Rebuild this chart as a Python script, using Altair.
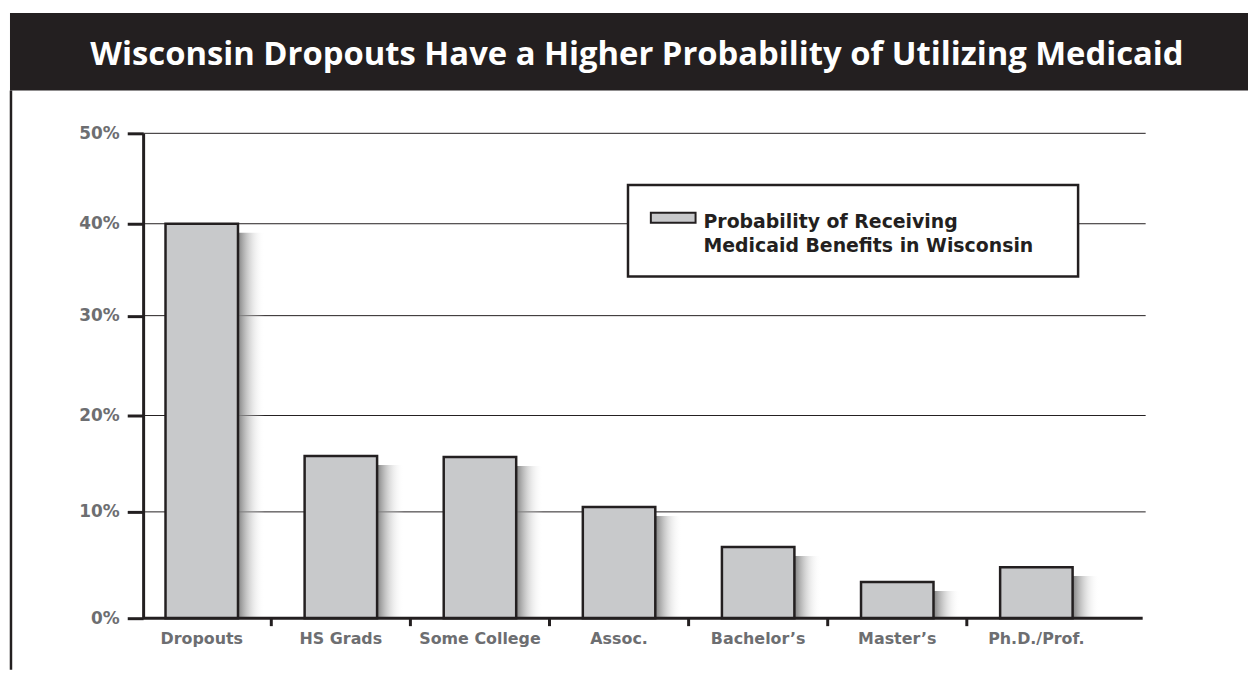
import altair as alt
import pandas as pd

# ---- data ----
categories = ["Dropouts", "HS Grads", "Some College", "Assoc.", "Bachelor’s", "Master’s", "Ph.D./Prof."]
values = [40.0, 15.8, 15.7, 10.5, 6.7, 3.4, 4.8]
y_ticks = [0, 10, 20, 30, 40, 50]
title_text = "Wisconsin Dropouts Have a Higher Probability of Utilizing Medicaid"
legend_text = "Probability of Receiving\nMedicaid Benefits in Wisconsin"

df = pd.DataFrame({"category": categories, "value": values})
sep_df = pd.DataFrame({"category": categories[:-1]})
grid_df = pd.DataFrame({"v": y_ticks[1:]})

# ---- style ----
INK = "#231f20"
GRAY_TXT = "#6d6e71"
BAR_FILL = "#c8c9cb"
W, H = 1009, 488
STEP = 140
PAD_L, PAD_T, PAD_R, PAD_B = 136, 124, 103, 50
# pixel positions of the (slightly uneven, scanned) gridlines, from the bottom up
Y_RANGE = [H, 381, 284, 183.5, 91, 0]

one = alt.Data(values=[{"t": title_text}])

x_enc = alt.X(
    "category:N",
    sort=categories,
    scale=alt.Scale(range=[-11, 969], paddingInner=0.479, paddingOuter=0.2395),
    axis=alt.Axis(
        title=None, domain=False, ticks=False, labelAngle=0,
        labelFont="DejaVu Sans", labelFontWeight="bold", labelFontSize=16,
        labelColor=GRAY_TXT, labelPadding=12,
    ),
)
y_scale = alt.Scale(domain=y_ticks, range=Y_RANGE)
y_enc = alt.Y(
    "value:Q",
    scale=y_scale,
    axis=alt.Axis(
        values=y_ticks, labelExpr="datum.value + '%'", title=None, grid=False,
        domainColor=INK, domainWidth=3, tickColor=INK, tickWidth=3, tickSize=16,
        labelFont="DejaVu Sans", labelFontWeight="bold", labelFontSize=17,
        labelColor=GRAY_TXT, labelPadding=8,
    ),
)

shadow_grad = alt.Gradient(
    gradient="linear",
    stops=[
        alt.GradientStop(color="#7a7a7a", offset=0),
        alt.GradientStop(color="#7a7a7a", offset=0.62),
        alt.GradientStop(color="rgba(200,200,200,0.35)", offset=0.85),
        alt.GradientStop(color="rgba(255,255,255,0)", offset=1),
    ],
    x1=0, x2=1, y1=0, y2=0,
)

gridlines = alt.Chart(grid_df).mark_rule(color=INK, strokeWidth=1).encode(
    y=alt.Y("v:Q", scale=y_scale), x=alt.value(0), x2=alt.value(W)
)
shadow = alt.Chart(df).mark_bar(fill=shadow_grad, xOffset=27, yOffset=9).encode(
    x=x_enc, y=alt.Y("value:Q"), y2=alt.datum(0)
)
bars = alt.Chart(df).mark_bar(fill=BAR_FILL, stroke=INK, strokeWidth=2.5).encode(
    x=x_enc, y=y_enc
)
baseline = alt.Chart(one).mark_rule(color=INK, strokeWidth=3).encode(
    y=alt.datum(0), x=alt.value(0), x2=alt.value(W - 3)
)
seps = alt.Chart(sep_df).mark_rule(color=INK, strokeWidth=3, xOffset=STEP / 2).encode(
    x=alt.X("category:N", sort=categories), y=alt.value(H), y2=alt.value(H + 8)
)

title_bar = alt.Chart(one).mark_rect(fill=INK).encode(
    x=alt.value(-134), x2=alt.value(W + PAD_R), y=alt.value(-121), y2=alt.value(-43)
)
frame = alt.Chart(one).mark_rule(color=INK, strokeWidth=2.5).encode(
    x=alt.value(-133), y=alt.value(-43), y2=alt.value(H + PAD_B + 2)
)
title = alt.Chart(one).mark_text(
    font="Open Sans", fontWeight="bold", fontSize=33, color="white",
    align="center", baseline="alphabetic",
).encode(x=alt.value(497), y=alt.value(-69), text="t:N")

legend_box = alt.Chart(one).mark_rect(fill="white", stroke=INK, strokeWidth=2.5).encode(
    x=alt.value(488), x2=alt.value(941), y=alt.value(52), y2=alt.value(144)
)
legend_swatch = alt.Chart(one).mark_rect(fill=BAR_FILL, stroke=INK, strokeWidth=2).encode(
    x=alt.value(511), x2=alt.value(556), y=alt.value(80), y2=alt.value(90)
)
legend_label = alt.Chart(alt.Data(values=[{"t": legend_text}])).mark_text(
    font="DejaVu Sans", fontWeight="bold", fontSize=19, color=INK,
    align="left", baseline="alphabetic", lineBreak="\n", lineHeight=24,
).encode(x=alt.value(564), y=alt.value(95), text="t:N")

chart = alt.layer(
    gridlines, shadow, bars, baseline, seps, title_bar, frame, title,
    legend_box, legend_swatch, legend_label,
).properties(
    width=W, height=H,
    padding={"left": PAD_L, "top": PAD_T, "right": PAD_R, "bottom": PAD_B},
    autosize="none", background="white",
).configure_view(stroke=None)

chart.save("out.html", embed_options={"renderer": "svg", "actions": False})
